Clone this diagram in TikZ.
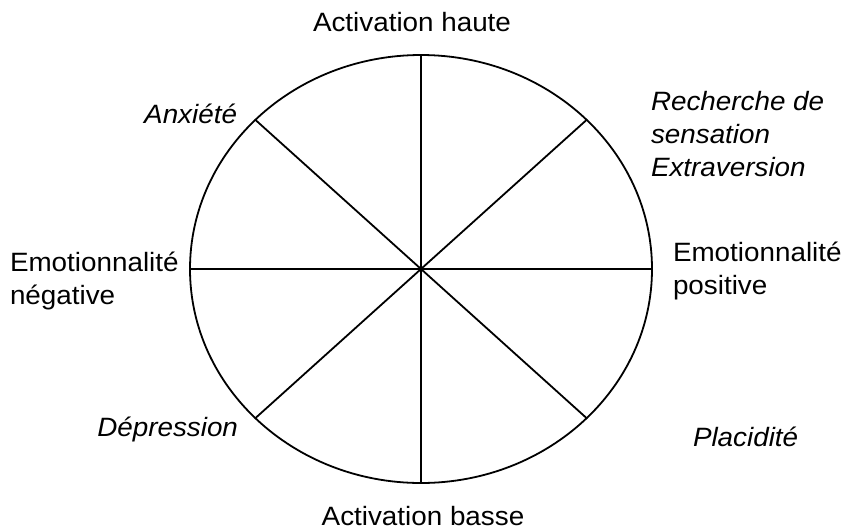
\documentclass[tikz,border=0pt]{standalone}
\usepackage{fontspec}
\setmainfont{Liberation Sans}
\usetikzlibrary{shapes.geometric}
\begin{document}
\begin{tikzpicture}[x=1pt,y=-1pt,
  lbl/.style={inner sep=0pt, outer sep=0pt, font=\fontsize{26.5}{33}\selectfont, xscale=1.05},
  itlbl/.style={lbl, font=\fontsize{26.5}{33}\selectfont\itshape},
  spoke/.style={line width=1.8pt, line cap=round},
  ring/.style={draw, line width=1.8pt, ellipse, inner sep=0pt, outer sep=0pt, minimum width=462pt, minimum height=428pt}]
\useasboundingbox (0,0) rectangle (846,531);
\node[ring] (E) at (421,269) {};
\draw[spoke] (E.north) -- (E.south);
\draw[spoke] (E.west) -- (E.east);
\draw[spoke] (E.42) -- (E.222);
\draw[spoke] (E.138) -- (E.318);
\node[lbl, anchor=base] (top) at (412,31) {Activation haute};
\node[lbl, anchor=base] (bot) at (423,525) {Activation basse};
\node[itlbl, anchor=base east] (anx) at (237,123) {Anxiété};
\node[itlbl, anchor=base east] (dep) at (238,436) {Dépression};
\node[itlbl, anchor=base west] (pla) at (693,446) {Placidité};
\node[itlbl, anchor=west, align=left] (rec) at (651,134) {Recherche de\\sensation\\Extraversion};
\node[lbl, anchor=west, align=left] (neg) at (10,281) {Emotionnalité\\négative};
\node[lbl, anchor=west, align=left] (pos) at (673,271) {Emotionnalité\\positive};
\end{tikzpicture}
\end{document}
